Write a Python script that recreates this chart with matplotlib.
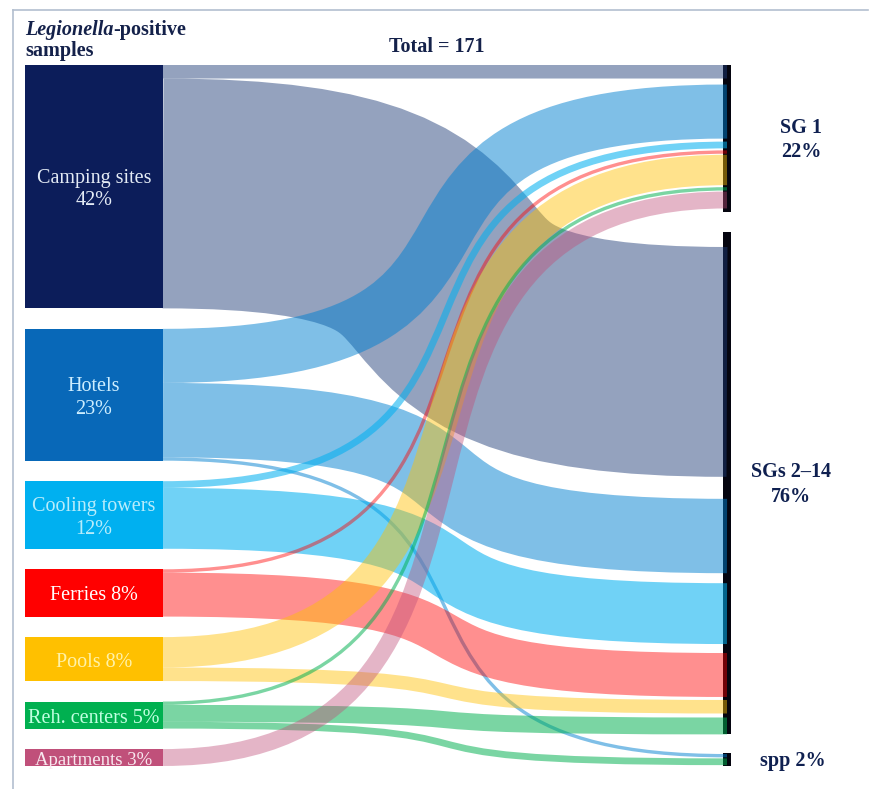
import numpy as np
import matplotlib
matplotlib.use("Agg")
import matplotlib.pyplot as plt
from matplotlib.path import Path
from matplotlib.patches import PathPatch, Rectangle

plt.rcParams["font.family"] = ["Liberation Serif", "DejaVu Serif"]

# ---- data (number of Legionella-positive samples, total = 171) ----
sources = ["Camping sites\n42%", "Hotels\n23%", "Cooling towers\n12%", "Ferries 8%",
           "Pools 8%", "Reh. centers 5%", "Apartments 3%"]
targets = ["SG 1\n22%", "SGs 2\u201314\n76%", "spp 2%"]
to_sg1 = [4, 16, 2, 1, 9, 1, 5]
to_sgs = [68, 22, 18, 13, 4, 5, 0]
to_spp = [0, 1, 0, 0, 0, 2, 0]
total = 171

# ---- style ----
node_colors = ["#0c1d5a", "#0868b8", "#00b0f0", "#ff0000", "#ffc000", "#00b050", "#c0507a"]
flow_colors = ["#1f3d78", "#0080d0", "#00b0f0", "#ff0000", "#ffc000", "#00b050", "#c0507a"]
flow_alpha = [0.48, 0.5, 0.56, 0.44, 0.45, 0.52, 0.42]
label_colors = ["#e4ebf5", "#cdeeff", "#b8ecfb", "#ffffff", "#fff2a8", "#c0ffe0", "#f8e8ef"]
navy = "#0f2050"

PX = 3.38              # pixels per sample
LX0, LX1 = 25, 163     # left node box
RX0, RX1 = 723, 731    # right node bar
FLOW_END = 727
CURV = 0.75            # bezier control offset (fraction of horizontal span)
TOP = 65
LGAP = 20.5
TXT_DY = 3             # visual baseline nudge for labels
# spacing inside right nodes: (node top, top pad, gaps between flows, bottom pad)
right_layout = [(65, 0, [6, 3, 2, 1, 2, 1], 3.5),
                (232, 15, [22, 10, 9, 3, 4], 0),
                (753, 1, [1], 1)]
label_x = [801, 791, 793]

fig = plt.figure(figsize=(8.72, 7.89), dpi=100)
ax = fig.add_axes([0, 0, 1, 1])
ax.set_xlim(0, 872)
ax.set_ylim(789, 0)
ax.axis("off")

# frame lines
ax.plot([13, 13], [10, 789], color="#b3bfcf", lw=1.2)
ax.plot([13, 868], [10, 10], color="#b3bfcf", lw=1.2)

flows = np.array([to_sg1, to_sgs, to_spp])   # shape (target, source)

# left node positions
left_top = []
y = TOP
for s in range(len(sources)):
    left_top.append(y)
    y += flows[:, s].sum() * PX + LGAP

# right flow positions (stacked by source order)
right_pos = {}
node_span = []
for t, (ntop, pad, gaps, bpad) in enumerate(right_layout):
    y = ntop + pad
    k = 0
    for s in range(len(sources)):
        v = flows[t, s]
        if v == 0:
            continue
        if k > 0:
            y += gaps[min(k - 1, len(gaps) - 1)]
        right_pos[(s, t)] = (y, y + v * PX)
        y += v * PX
        k += 1
    node_span.append((ntop, y + bpad))

# right bars
for t, (a, b) in enumerate(node_span):
    ax.add_patch(Rectangle((RX0, a), RX1 - RX0, b - a, fc="#05050f", ec="none", zorder=1))

# flows drawn as thick stroked curves
span = FLOW_END - LX1
for s in range(len(sources)):
    y = left_top[s]
    for t in range(len(targets)):
        v = flows[t, s]
        if v == 0:
            continue
        w = v * PX
        ya = y + w / 2
        ra, rb = right_pos[(s, t)]
        yb = (ra + rb) / 2
        path = Path([(LX1, ya), (LX1 + CURV * span, ya), (FLOW_END - CURV * span, yb), (FLOW_END, yb)],
                    [Path.MOVETO, Path.CURVE4, Path.CURVE4, Path.CURVE4])
        ax.add_patch(PathPatch(path, fc="none", ec=flow_colors[s], alpha=flow_alpha[s],
                               lw=w * 0.72, capstyle="butt", zorder=2))
        y += w

# left nodes and labels
for s, name in enumerate(sources):
    h = flows[:, s].sum() * PX
    ax.add_patch(Rectangle((LX0, left_top[s]), LX1 - LX0, h, fc=node_colors[s], ec="none", zorder=3))
    ax.text((LX0 + LX1) / 2, left_top[s] + h / 2 + TXT_DY, name, ha="center", va="center",
            fontsize=14.5 if s < 6 else 13.5, color=label_colors[s], linespacing=1.25, zorder=4)

# right labels
for t, name in enumerate(targets):
    a, b = node_span[t]
    ax.text(label_x[t], (a + b) / 2 + 1.5, name, ha="center", va="center", fontsize=14.5,
            fontweight="bold", color=navy, linespacing=1.3)

# headings
t1 = ax.text(25, 30, "Legionella", fontsize=14.5, fontweight="bold", fontstyle="italic",
             color="#14214a", ha="left", va="center")
ax.annotate("-positive", xy=(1, 0.5), xycoords=t1, ha="left", va="center",
            fontsize=14.5, fontweight="bold", color="#14214a")
ax.text(25, 51, "samples", fontsize=14.5, fontweight="bold", color="#14214a", ha="left", va="center")
ax.text(437, 47, f"Total = {total}", fontsize=14.5, fontweight="bold", color="#14214a",
        ha="center", va="center")

fig.savefig("out.png", dpi=100)
